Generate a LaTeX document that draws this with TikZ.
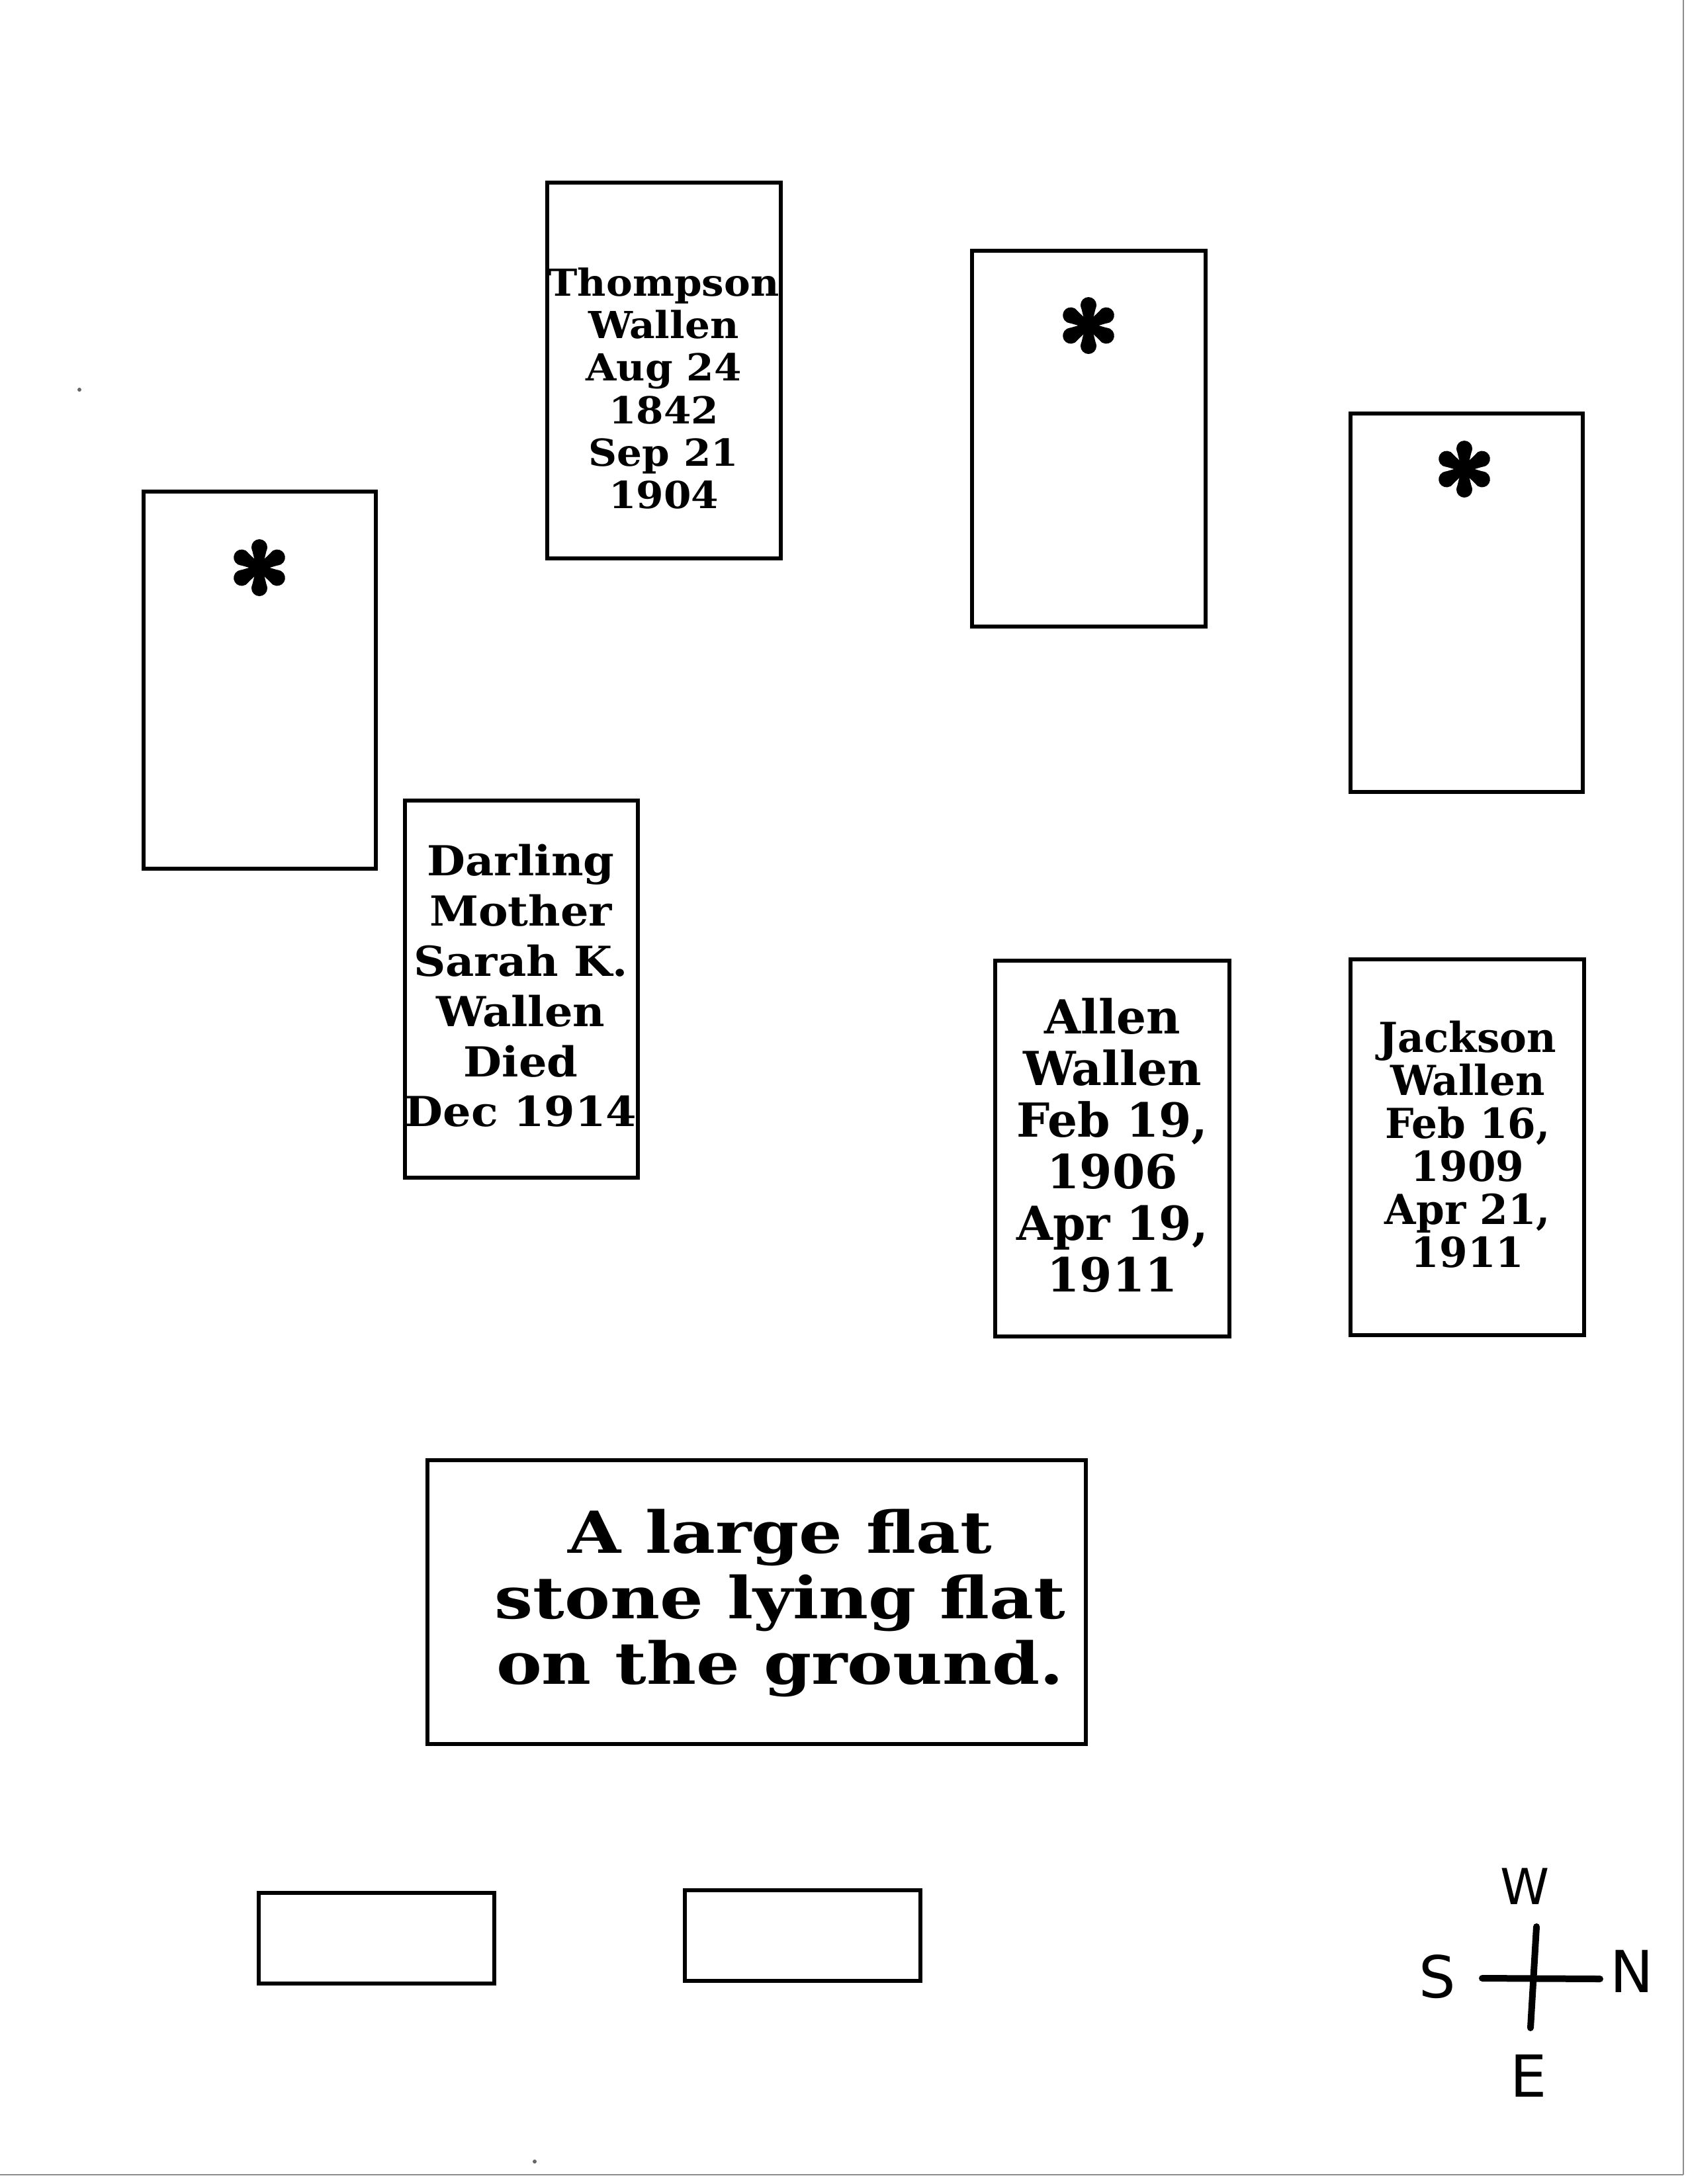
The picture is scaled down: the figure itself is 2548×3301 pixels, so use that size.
\documentclass[tikz,border=0pt]{standalone}
\usepackage{fontspec}
\setmainfont{DejaVu Serif}
\newfontfamily\thfont{DejaVu Serif}[FakeStretch=1.06]
\newfontfamily\safont{DejaVu Serif}[FakeStretch=1.07]
\newfontfamily\alfont{DejaVu Serif}[FakeStretch=1.0]
\newfontfamily\jafont{DejaVu Serif}[FakeStretch=0.98]
\newfontfamily\flfont{DejaVu Serif}[FakeStretch=1.18]
\newfontfamily\handfont{DejaVu Sans}
\begin{document}
\begin{tikzpicture}[x=0.24pt,y=-0.24pt,
  stonebox/.style={draw=black,line width=1.25pt},
  txt/.style={inner sep=0pt,align=center,text=black},
  handline/.style={draw=black,line width=2.4pt,line cap=round},
  handletter/.style={inner sep=0pt,font=\handfont\fontsize{21}{21}\selectfont},
  edge/.style={draw=black!45,line width=0.5pt},
  aster/.pic={
    \fill[black] (0,0) circle [radius=8];
    \foreach \a in {90,30,-30,-90,-150,150}{
      \fill[black,rotate=\a] (0,-4.5) -- (31,-12) -- (31,12) -- (0,4.5) -- cycle;
      \fill[black,rotate=\a] (31,0) circle [radius=12];
    }}
]
\useasboundingbox (0,0) rectangle (2548,3301);
\fill[white] (0,0) rectangle (2548,3301);

% scan edges
\draw[edge] (2544,0) -- (2544,3287);
\draw[edge] (0,3287) -- (2544,3287);
\fill[black!60] (120,589) circle [radius=3];
\fill[black!60] (808,3267) circle [radius=3];

% headstones
\draw[stonebox] (217,743) rectangle (568,1313);
\draw[stonebox] (827,276) rectangle (1180,844);
\draw[stonebox] (1469,379) rectangle (1822,947);
\draw[stonebox] (2041,625) rectangle (2392,1197);
\draw[stonebox] (612,1210) rectangle (964,1780);
\draw[stonebox] (1504,1452) rectangle (1858,2020);
\draw[stonebox] (2041,1450) rectangle (2394,2018);
\draw[stonebox] (646,2207) rectangle (1641,2636);
\draw[stonebox] (391,2861) rectangle (747,2998);
\draw[stonebox] (1035,2857) rectangle (1391,2994);

% asterisks
\pic at (392,858) {aster};
\pic at (1645,492) {aster};
\pic at (2213,709) {aster};

% inscriptions
\node[txt,font=\thfont\fontsize{13.5}{15.4}\selectfont\bfseries] (thompson) at (1003,587)
  {Thompson\\Wallen\\Aug 24\\1842\\Sep 21\\1904};
\node[txt,font=\safont\fontsize{15}{18.2}\selectfont\bfseries] (sarah) at (787,1490)
  {Darling\\Mother\\Sarah K.\\Wallen\\Died\\Dec 1914};
\node[txt,font=\alfont\fontsize{17}{18.7}\selectfont\bfseries] (allen) at (1681,1731)
  {Allen\\Wallen\\Feb 19,\\1906\\Apr 19,\\1911};
\node[txt,font=\jafont\fontsize{15}{15.6}\selectfont\bfseries] (jackson) at (2218,1730)
  {Jackson\\Wallen\\Feb 16,\\1909\\Apr 21,\\1911};
\node[txt,font=\flfont\fontsize{21}{23.7}\selectfont\bfseries] (flat) at (1179,2423)
  {A large flat\\stone lying flat\\on the ground.};

% compass
\coordinate (cvt) at (2322,2912);
\coordinate (cvb) at (2313,3065);
\coordinate (chl) at (2240,2990);
\coordinate (chr) at (2418,2991);
\draw[handline] (cvt) -- (cvb);
\draw[handline] (chl) -- (chr);
\node[handletter,font=\handfont\fontsize{18}{18}\selectfont] (west) at (2305,2851) {W};
\node[handletter] (south) at (2172,2988) {S};
\node[handletter] (north) at (2466,2980) {N};
\node[handletter] (east) at (2310,3138) {E};
\end{tikzpicture}
\end{document}
